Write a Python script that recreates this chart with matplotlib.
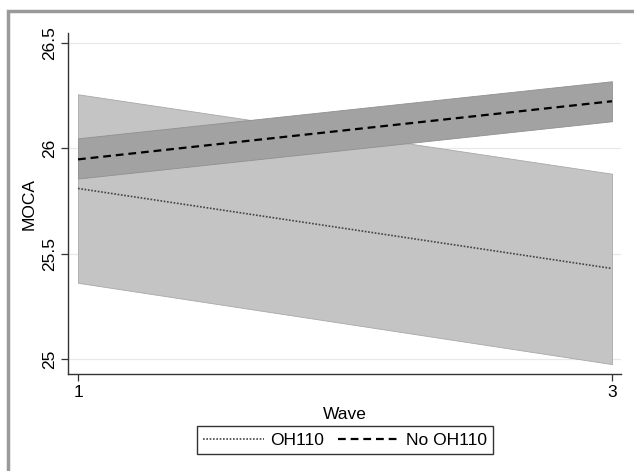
import matplotlib
matplotlib.use("Agg")
import matplotlib.pyplot as plt
from matplotlib.patches import Rectangle

plt.rcParams['font.family'] = ['Liberation Sans', 'DejaVu Sans']

# predicted MOCA by wave, with confidence bands
wave = [1, 3]
oh_mean = [25.81, 25.43]
oh_lo = [25.362, 24.976]
oh_hi = [26.257, 25.88]
no_mean = [25.948, 26.224]
no_lo = [25.857, 26.129]
no_hi = [26.048, 26.319]

yticks = [25, 25.5, 26, 26.5]
ytick_labels = ["25", "25.5", "26", "26.5"]

fs = 12.5

fig = plt.figure(figsize=(6.34, 4.71), dpi=100)
ax = fig.add_axes([68/634, 1-374/471, (621-68)/634, (374-33)/471])

# grey outer frame like the stata graph region
fig.patches.append(Rectangle((8/634, -0.1), 1.2, 1 - 11/471 + 0.1,
                             transform=fig.transFigure, fill=False,
                             edgecolor='#9a9a9a', lw=2.5, clip_on=False))

for y in yticks:
    ax.axhline(y, color='#e8e8e8', lw=0.9, zorder=0)

ax.fill_between(wave, oh_lo, oh_hi, color='#c4c4c4', edgecolor='#a8a8a8', lw=0.6, zorder=1)
ax.fill_between(wave, no_lo, no_hi, color='#a2a2a2', edgecolor='#909090', lw=0.6, zorder=2)
l1, = ax.plot(wave, oh_mean, color='#444444', lw=1.2, linestyle=(0, (1, 1)), zorder=3)
l2, = ax.plot(wave, no_mean, color='black', lw=1.6, dashes=(3.5, 2.2), zorder=3)

ax.set_xlim(0.9625, 3.034)
ax.set_ylim(24.929, 26.548)
ax.set_xticks([1, 3])
ax.set_yticks(yticks)
ax.set_yticklabels(ytick_labels, rotation=90, va='center')
ax.tick_params(labelsize=fs, length=5, width=0.9, color='#333333', pad=3)
ax.spines['top'].set_visible(False)
ax.spines['right'].set_visible(False)
for s in ['left', 'bottom']:
    ax.spines[s].set_color('#333333')
    ax.spines[s].set_linewidth(1.0)

ax.set_xlabel("Wave", fontsize=fs, labelpad=5)
ax.set_ylabel("MOCA", fontsize=fs, labelpad=4)

leg = fig.legend([l1, l2], ["OH110", "No OH110"], loc='center',
                 bbox_to_anchor=(345/634, 1-440/471), ncol=2, fontsize=fs,
                 frameon=True, fancybox=False, handlelength=3.5,
                 handletextpad=0.4, columnspacing=0.8, borderpad=0.35)
leg.get_frame().set_edgecolor('black')
leg.get_frame().set_linewidth(1.0)

fig.savefig("out.png", dpi=100, facecolor='white')
